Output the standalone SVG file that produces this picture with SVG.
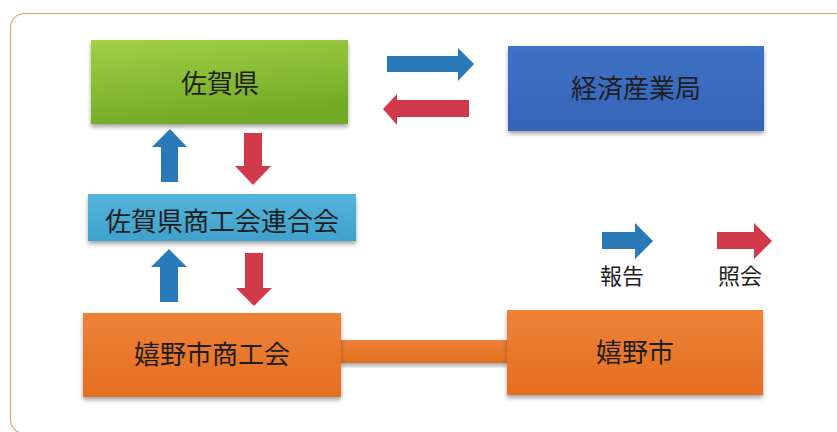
<svg xmlns="http://www.w3.org/2000/svg" width="837" height="432" viewBox="0 0 837 432">
<defs>
<linearGradient id="gGreen" x1="0" y1="0" x2="0.3" y2="1">
<stop offset="0" stop-color="#a2d044"/>
<stop offset="1" stop-color="#72aa26"/>
</linearGradient>
<linearGradient id="gBlue" x1="0" y1="0" x2="0" y2="1">
<stop offset="0" stop-color="#3f72c6"/>
<stop offset="1" stop-color="#3564b8"/>
</linearGradient>
<linearGradient id="gLight" x1="0" y1="0" x2="0" y2="1">
<stop offset="0" stop-color="#55b4da"/>
<stop offset="1" stop-color="#3ea2cc"/>
</linearGradient>
<linearGradient id="gOrange" x1="0" y1="0" x2="0" y2="1">
<stop offset="0" stop-color="#ee8136"/>
<stop offset="1" stop-color="#e56f22"/>
</linearGradient>
<filter id="sh" x="-5%" y="-10%" width="110%" height="130%">
<feDropShadow dx="0" dy="3" stdDeviation="2" flood-color="#000" flood-opacity="0.35"/>
</filter>
<style>
.lbl{font-family:"Noto Sans CJK JP","Noto Sans CJK SC",sans-serif;font-size:26px;fill:#1e1e1e;text-anchor:middle}
.leg{font-family:"Noto Sans CJK JP","Noto Sans CJK SC",sans-serif;font-size:22px;fill:#1e1e1e;text-anchor:middle}
.rep{fill:#2a79b9}
.inq{fill:#d23a4c}
</style>
</defs>
<rect width="837" height="432" fill="#ffffff"/>
<rect x="10.5" y="13.5" width="860" height="420" rx="14" fill="none" stroke="#e2a86a" stroke-width="1.2"/>

<g id="connectors">
<rect x="340" y="340" width="168" height="23" fill="url(#gOrange)" filter="url(#sh)"/>
<polygon class="rep" points="387,56 458,56 458,48 474,64 458,81 458,72 387,72"/>
<polygon class="inq" points="469,100 397,100 397,94 383,109 397,125 397,117 469,117"/>
<polygon class="rep" points="161,182 161,147 152,147 170,129 187,147 178,147 178,182"/>
<polygon class="inq" points="244,133 262,133 262,166 271,166 253,185 235,166 244,166"/>
<polygon class="rep" points="160,302 160,267 151,267 169,249 187,267 178,267 178,302"/>
<polygon class="inq" points="245,253 263,253 263,288 272,288 254,306 236,288 245,288"/>
</g>

<g id="saga-pref">
<rect x="91" y="40" width="257" height="84" fill="url(#gGreen)" filter="url(#sh)"/>
<text class="lbl" x="220" y="93">佐賀県</text>
</g>
<g id="meti">
<rect x="508" y="46" width="256" height="85" fill="url(#gBlue)" filter="url(#sh)"/>
<text class="lbl" x="636" y="98">経済産業局</text>
</g>
<g id="federation">
<rect x="88" y="194" width="268" height="47" fill="url(#gLight)" filter="url(#sh)"/>
<text class="lbl" x="222" y="231">佐賀県商工会連合会</text>
</g>
<g id="ureshino-chamber">
<rect x="83" y="313" width="258" height="84" fill="url(#gOrange)" filter="url(#sh)"/>
<text class="lbl" x="212" y="364">嬉野市商工会</text>
</g>
<g id="ureshino-city">
<rect x="507" y="310" width="256" height="85" fill="url(#gOrange)" filter="url(#sh)"/>
<text class="lbl" x="635" y="362">嬉野市</text>
</g>

<g id="legend">
<polygon class="rep" points="602,232 635,232 635,223 653,241 635,259 635,249 602,249"/>
<text class="leg" x="622" y="284">報告</text>
<polygon class="inq" points="717,232 754,232 754,223 772,241 754,259 754,249 717,249"/>
<text class="leg" x="740" y="284">照会</text>
</g>
</svg>
